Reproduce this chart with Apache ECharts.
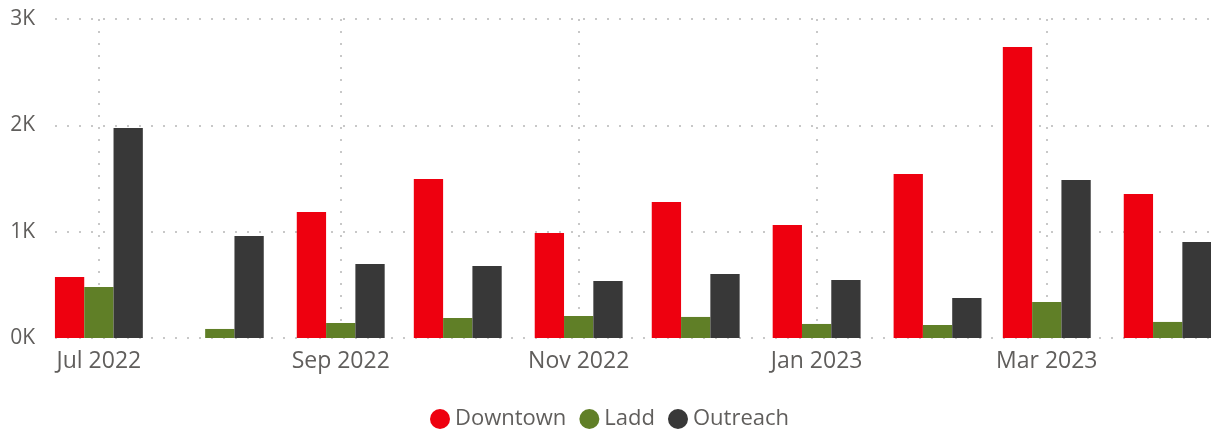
<!DOCTYPE html>
<html>
<head>
<meta charset="utf-8">
<script src="https://cdn.jsdelivr.net/npm/echarts@6/dist/echarts.min.js"></script>
<style>
html,body{margin:0;padding:0;background:#fff;}
#chart{width:1211px;height:432px;}
</style>
</head>
<body>
<div id="chart"></div>
<script>
// ---- data ----
const months = ['2022-07','2022-08','2022-09','2022-10','2022-11','2022-12','2023-01','2023-02','2023-03','2023-04'];
const downtown = [574, null, 1185, 1496, 988, 1279, 1063, 1543, 2737, 1355];
const ladd     = [480, 85, 141, 188, 207, 198, 132, 122, 339, 151];
const outreach = [1975, 960, 696, 677, 536, 602, 546, 376, 1486, 903];
const tickLabels = ['2022-07','2022-09','2022-11','2023-01','2023-03'];
const yTicks = [0, 1000, 2000, 3000];

const monthNames = ['Jan','Feb','Mar','Apr','May','Jun','Jul','Aug','Sep','Oct','Nov','Dec'];
// days since 2022-07-01 (UTC, no timezone issues)
const BASE = Date.UTC(2022, 6, 1);
const DAY = 86400000;
function toDay(s){ const p = s.split('-'); return (Date.UTC(+p[0], +p[1]-1, 1) - BASE) / DAY; }
function dayLabel(v){ const d = new Date(BASE + Math.round(v) * DAY); return monthNames[d.getUTCMonth()] + ' ' + d.getUTCFullYear(); }
const xs = months.map(toDay);
const tickXs = tickLabels.map(toDay);

const chart = echarts.init(document.getElementById('chart'), null, {renderer:'canvas'});
const FONT = '"Open Sans", "Noto Sans", sans-serif';
const TXT = '#605E5C';
const gridLine = {show:true, lineStyle:{color:'#c8c8c8', width:2, type:[2,10]}};

function mk(name, vals, color){
  return {
    name, type:'bar', barWidth:29.3, barGap:'0%',
    itemStyle:{color},
    data: vals.map((v,i)=>[xs[i], v]),
    emphasis:{disabled:true}
  };
}

chart.setOption({
  animation:false,
  textStyle:{fontFamily:FONT},
  grid:{left:55, right:0, top:19, bottom:94, containLabel:false},
  xAxis:{
    type:'value',
    min: xs[0] - 11.25,
    max: xs[xs.length-1] + 11.1,
    axisLine:{show:false},
    axisTick:{show:false, customValues: tickXs},
    axisLabel:{
      customValues: tickXs,
      color:TXT, fontSize:23, fontFamily:FONT, margin:12,
      showMinLabel:true, showMaxLabel:true,
      formatter: v => dayLabel(v)
    },
    splitLine:gridLine
  },
  yAxis:{
    type:'value', min:yTicks[0], max:yTicks[yTicks.length-1], interval:1000,
    axisLine:{show:false}, axisTick:{show:false},
    axisLabel:{color:TXT, fontSize:21, fontFamily:FONT, margin:20, padding:[4,0,0,0], formatter: v => (v/1000)+'K'},
    splitLine:gridLine
  },
  legend:{
    top:408, left:430, padding:0,
    icon:'circle', itemWidth:20, itemHeight:20, itemGap:13,
    textStyle:{color:TXT, fontSize:22, lineHeight:20, fontFamily:FONT},
    data:['Downtown','Ladd','Outreach']
  },
  series:[
    mk('Downtown', downtown, '#EE000F'),
    mk('Ladd', ladd, '#607F27'),
    mk('Outreach', outreach, '#383838')
  ]
});
</script>
</body>
</html>
